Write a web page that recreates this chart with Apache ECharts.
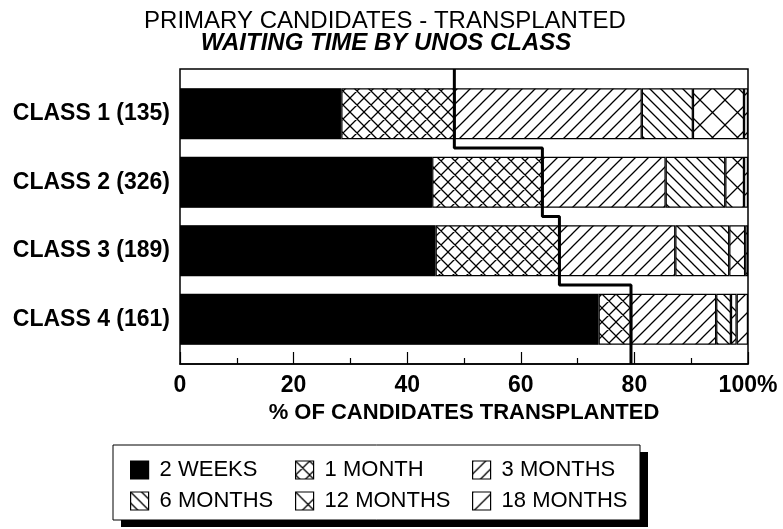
<!DOCTYPE html>
<html>
<head>
<meta charset="utf-8">
<script src="https://cdn.jsdelivr.net/npm/echarts@6/dist/echarts.min.js"></script>
<style>
  html, body { margin: 0; padding: 0; background: #fff; }
  #chart { width: 783px; height: 529px; }
</style>
</head>
<body>
<div id="chart"></div>
<script>
// ---- data ----
const categories = ['CLASS 1 (135)', 'CLASS 2 (326)', 'CLASS 3 (189)', 'CLASS 4 (161)'];
const seriesNames = ['2 WEEKS', '1 MONTH', '3 MONTHS', '6 MONTHS', '12 MONTHS', '18 MONTHS'];
const weeks2   = [28.4, 44.4, 45.0, 73.7];
const month1   = [19.9, 19.4, 21.8, 5.7];
const months3  = [33.0, 21.7, 20.4, 15.0];
const months6  = [9.0, 10.5, 9.5, 2.6];
const months12 = [9.0, 3.3, 2.8, 1.0];
const months18 = [0.7, 0.7, 0.5, 2.0];
const xTicks = [0, 20, 40, 60, 80, 100];

// ---- patterns ----
function hatch(size, dirs, lw) {
  const c = document.createElement('canvas');
  c.width = size; c.height = size;
  const g = c.getContext('2d');
  g.fillStyle = '#fff'; g.fillRect(0, 0, size, size);
  g.strokeStyle = '#000'; g.lineWidth = lw;
  g.beginPath();
  if (dirs.indexOf('/') >= 0) {
    g.moveTo(-2, size + 2); g.lineTo(size + 2, -2);
    g.moveTo(-2, 2); g.lineTo(2, -2);
    g.moveTo(size - 2, size + 2); g.lineTo(size + 2, size - 2);
  }
  if (dirs.indexOf('\\') >= 0) {
    g.moveTo(-2, -2); g.lineTo(size + 2, size + 2);
    g.moveTo(size - 2, -2); g.lineTo(size + 2, 2);
    g.moveTo(-2, size - 2); g.lineTo(2, size + 2);
  }
  g.stroke();
  return { image: c, repeat: 'repeat' };
}
const fills = [
  '#000',
  hatch(14, '/\\', 1.3),
  hatch(13, '/', 1.3),
  hatch(11, '\\', 1.3),
  hatch(25, '/\\', 1.3),
  hatch(20, '/', 1.3)
];
const values = [weeks2, month1, months3, months6, months12, months18];

// step line = cumulative share transplanted within one month
const cum1 = weeks2.map((v, i) => +(v + month1[i]).toFixed(1));
const framePad = 0.153;
const stepData = [];
cum1.forEach((c, i) => {
  stepData.push([c, i === 0 ? i - 0.5 - framePad : i - 0.5]);
  stepData.push([c, i === cum1.length - 1 ? i + 0.5 + framePad : i + 0.5]);
});

const FONT = '"Liberation Sans", Arial, sans-serif';

const barSeries = values.map((arr, k) => ({
  name: seriesNames[k],
  type: 'bar',
  stack: 'total',
  xAxisIndex: 1,
  yAxisIndex: 1,
  barWidth: 51,
  data: arr,
  itemStyle: { color: fills[k], borderColor: '#000', borderWidth: 1.2 },
  emphasis: { disabled: true },
  silent: true
}));

function legendCol(left, names) {
  return {
    orient: 'vertical',
    left: left,
    top: 454,
    itemWidth: 18,
    itemHeight: 18,
    itemGap: 9,
    icon: 'rect',
    selectedMode: false,
    data: names,
    itemStyle: { borderColor: '#000', borderWidth: 1.2 },
    textStyle: { fontFamily: FONT, fontSize: 22, color: '#000', padding: [0, 0, 0, 6] }
  };
}

const chart = echarts.init(document.getElementById('chart'), null, { renderer: 'canvas' });
chart.setOption({
  backgroundColor: '#fff',
  animation: false,
  title: [
    { text: 'PRIMARY CANDIDATES - TRANSPLANTED', left: 380, top: 4, textAlign: 'center',
      textStyle: { fontFamily: FONT, fontSize: 24, fontWeight: 'normal', color: '#000' } },
    { text: 'WAITING TIME BY UNOS CLASS', left: 381, top: 26, textAlign: 'center',
      textStyle: { fontFamily: FONT, fontSize: 24, fontWeight: 'bold', fontStyle: 'italic', color: '#000' } }
  ],
  graphic: [
    { type: 'rect', z: -2, shape: { x: 121, y: 452, width: 527, height: 75 }, style: { fill: '#000' } },
    { type: 'rect', z: -1, shape: { x: 113, y: 445, width: 527, height: 75 }, style: { fill: '#fff', stroke: '#000', lineWidth: 1 } }
  ],
  legend: [
    legendCol(125, ['2 WEEKS', '6 MONTHS']),
    legendCol(290, ['1 MONTH', '12 MONTHS']),
    legendCol(467, ['3 MONTHS', '18 MONTHS'])
  ],
  grid: [
    { left: 180, right: 35, top: 69, bottom: 165, show: true, borderColor: '#000', borderWidth: 1.5, backgroundColor: 'transparent' },
    { left: 180, right: 35, top: 79.5, bottom: 175.5 }
  ],
  xAxis: [
    {
      gridIndex: 0, type: 'value', min: xTicks[0], max: xTicks[xTicks.length - 1], interval: 20,
      axisLine: { show: true, lineStyle: { color: '#000', width: 1.5 } },
      axisTick: { show: true, inside: true, length: 12, lineStyle: { color: '#000', width: 1.2 } },
      minorTick: { show: true, splitNumber: 2, length: 6, lineStyle: { color: '#000', width: 1.2 } },
      splitLine: { show: false },
      axisLabel: {
        margin: 10, fontFamily: FONT, fontSize: 23, fontWeight: 'bold', color: '#000',
        formatter: v => (v === 100 ? '100%' : String(v))
      },
      name: '% OF CANDIDATES TRANSPLANTED',
      nameLocation: 'middle',
      nameGap: 32,
      nameTextStyle: { fontFamily: FONT, fontSize: 22, fontWeight: 'bold', color: '#000' }
    },
    { gridIndex: 1, type: 'value', min: 0, max: 100, show: false }
  ],
  yAxis: [
    { gridIndex: 0, type: 'value', show: false },
    {
      gridIndex: 1, type: 'category', inverse: true, data: categories,
      axisLine: { show: false }, axisTick: { show: false },
      axisLabel: { margin: 10, fontFamily: FONT, fontSize: 23, fontWeight: 'bold', color: '#000' }
    },
    { gridIndex: 1, type: 'value', min: -0.5, max: 3.5, inverse: true, show: false }
  ],
  series: barSeries.concat([{
    type: 'line',
    xAxisIndex: 1,
    yAxisIndex: 2,
    data: stepData,
    clip: false,
    symbol: 'none',
    silent: true,
    z: 5,
    lineStyle: { color: '#000', width: 3 }
  }])
});
</script>
</body>
</html>
